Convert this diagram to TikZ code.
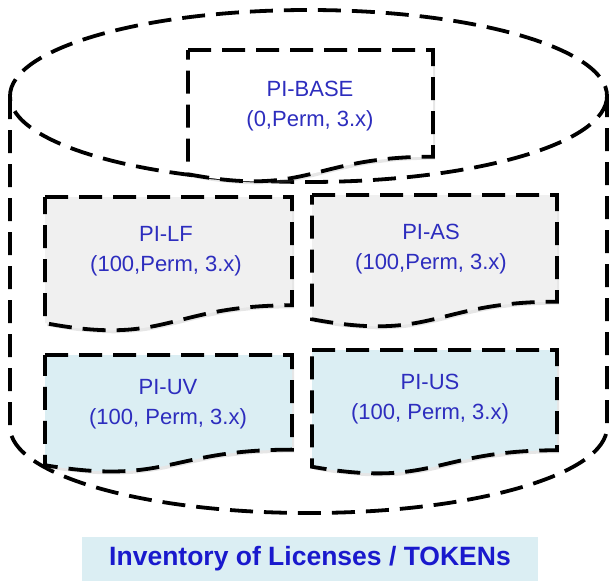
\documentclass[tikz,border=0pt]{standalone}
\usepackage{fontspec}
\setmainfont{Liberation Sans}
\usetikzlibrary{shadows}

\definecolor{labelblue}{RGB}{45,45,190}
\definecolor{titleblue}{RGB}{25,25,205}
\definecolor{docgray}{RGB}{240,240,240}
\definecolor{docblue}{RGB}{219,238,243}

% document outline: left, top, width, height, fill
\newcommand{\docshape}[5]{%
  \filldraw[docline, fill=#5, drop shadow={opacity=0.2, shadow xshift=2pt, shadow yshift=-3pt}]
    (#1,#2) -- ({#1+#3},#2) -- ({#1+#3},{#2+0.802*#4})
    .. controls ({#1+0.5*#3},{#2+0.802*#4}) and ({#1+0.5*#3},{#2+1.107*#4}) .. (#1,{#2+0.934*#4}) -- cycle;}

\begin{document}
\begin{tikzpicture}[x=1pt, y=-1pt, docline/.style={line width=3.8pt, dash pattern=on 23pt off 11pt}, doctext/.style={text=labelblue, align=center, font=\fontsize{22}{30}\selectfont}]
	\useasboundingbox (0,0) rectangle (610,581);
	% cylinder
	\draw[docline] (308.5,96) ellipse [x radius=298.5, y radius=86];
	\draw[docline] (10,96) -- (10,427) arc[start angle=180, end angle=0, x radius=298.5, y radius=86] -- (607,96);
	% licences
	\docshape{188}{50}{245}{133}{white}
	\node[doctext] (base) at (310,106) {PI-BASE\\(0,Perm, 3.x)};
	\docshape{45}{197}{247}{135}{docgray}
	\node[doctext] (lf) at (166,251) {PI-LF\\(100,Perm, 3.x)};
	\docshape{312}{195}{245}{133}{docgray}
	\node[doctext] (as) at (431,249) {PI-AS\\(100,Perm, 3.x)};
	\docshape{45}{355}{247}{118}{docblue}
	\node[doctext] (uv) at (168,404) {PI-UV\\(100, Perm, 3.x)};
	\docshape{312}{350}{245}{125}{docblue}
	\node[doctext] (us) at (430,399) {PI-US\\(100, Perm, 3.x)};
	\node[fill=docblue, minimum width=456, minimum height=44, text=titleblue, font=\bfseries\fontsize{26.5}{30}\selectfont] (title) at (310,559) {Inventory of Licenses / TOKENs};
\end{tikzpicture}
\end{document}
